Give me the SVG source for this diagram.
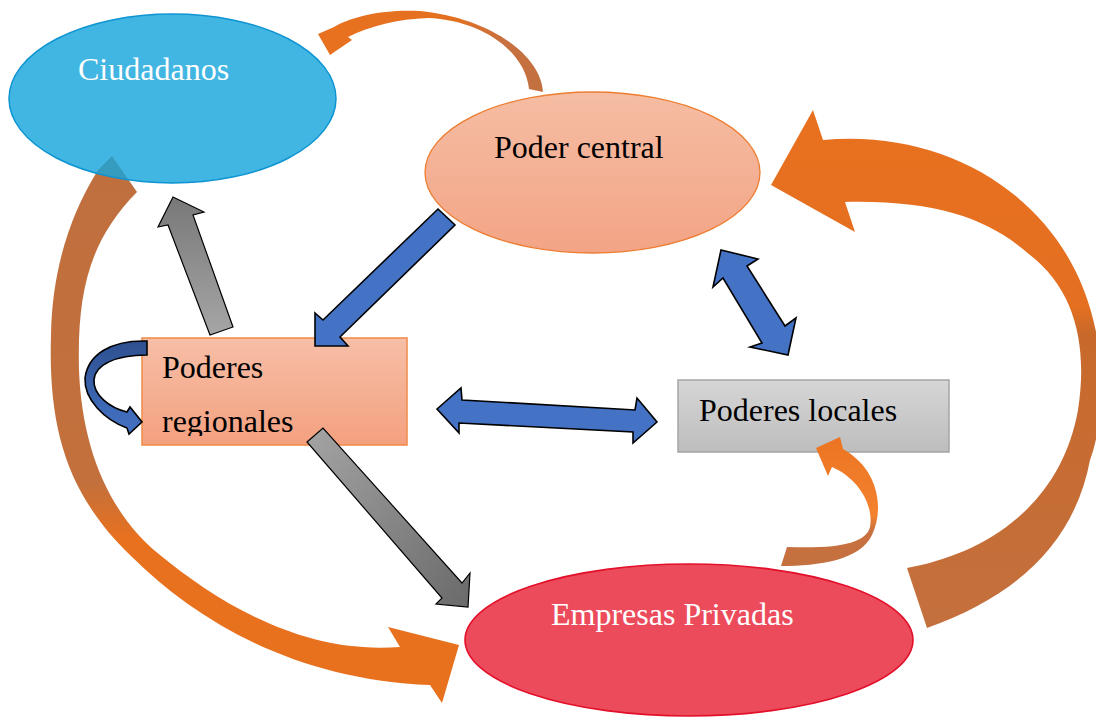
<svg xmlns="http://www.w3.org/2000/svg" width="1096" height="719" viewBox="0 0 1096 719">
<style>
.lbl{font-family:"Liberation Serif","Times New Roman",serif;font-size:32px}
.blk{fill:#000}
.wht{fill:#fff}
.blue{fill:#4472C4;stroke:#000;stroke-width:1.6;stroke-linejoin:miter}
.grey{stroke:#000;stroke-width:1.2}
</style>
<defs>
<linearGradient id="gPoder" x1="0" y1="0" x2="0" y2="1"><stop offset="0" stop-color="#F5BDA3"/><stop offset="1" stop-color="#F3A486"/></linearGradient>
<linearGradient id="gReg" x1="0" y1="0" x2="0" y2="1"><stop offset="0" stop-color="#F6BFA7"/><stop offset="1" stop-color="#F4A07F"/></linearGradient>
<linearGradient id="gLoc" x1="0" y1="0" x2="0" y2="1"><stop offset="0" stop-color="#D6D6D6"/><stop offset="1" stop-color="#BDBDBD"/></linearGradient>
<linearGradient id="gUp" x1="0" y1="0" x2="0" y2="1"><stop offset="0" stop-color="#787878"/><stop offset="1" stop-color="#A6A6A6"/></linearGradient>
<linearGradient id="gDown" x1="0" y1="0" x2="1" y2="1"><stop offset="0" stop-color="#A4A4A4"/><stop offset="1" stop-color="#6A6A6A"/></linearGradient>
<linearGradient id="gLoop" x1="0" y1="0" x2="0" y2="1"><stop offset="0" stop-color="#2E5090"/><stop offset="1" stop-color="#4472C4"/></linearGradient>
<linearGradient id="gLeft" gradientUnits="userSpaceOnUse" x1="0" y1="150" x2="0" y2="705"><stop offset="0" stop-color="#BF6F3E"/><stop offset="0.6" stop-color="#C3703C"/><stop offset="0.7" stop-color="#E8711F"/><stop offset="1" stop-color="#E8711E"/></linearGradient>
<linearGradient id="gRight" gradientUnits="userSpaceOnUse" x1="0" y1="110" x2="0" y2="630"><stop offset="0" stop-color="#E8711F"/><stop offset="0.38" stop-color="#E46F21"/><stop offset="0.43" stop-color="#C8692B"/><stop offset="1" stop-color="#C4703E"/></linearGradient>
<linearGradient id="gTop" gradientUnits="userSpaceOnUse" x1="320" y1="0" x2="545" y2="0"><stop offset="0" stop-color="#E8711F"/><stop offset="0.6" stop-color="#E37020"/><stop offset="0.82" stop-color="#C87040"/><stop offset="1" stop-color="#C2703F"/></linearGradient>
<linearGradient id="gSmall" gradientUnits="userSpaceOnUse" x1="0" y1="437" x2="0" y2="567"><stop offset="0" stop-color="#EC7422"/><stop offset="0.6" stop-color="#F3822E"/><stop offset="0.72" stop-color="#C97040"/><stop offset="1" stop-color="#C4703F"/></linearGradient>
<clipPath id="clipReg"><rect x="140" y="336" width="270" height="100"/></clipPath>
</defs>

<g id="node-poderes-regionales">
<rect x="142" y="338" width="265" height="107" fill="url(#gReg)" stroke="#F08A48" stroke-width="1.5"/>
<g clip-path="url(#clipReg)">
<text class="lbl blk" x="162" y="378">Poderes</text>
<text class="lbl blk" x="162" y="432">regionales</text>
</g>
</g>

<g id="node-poderes-locales">
<rect x="678" y="380" width="271" height="72" fill="url(#gLoc)" stroke="#A5A5A5" stroke-width="1.5"/>
<text class="lbl blk" x="699" y="421">Poderes locales</text>
</g>

<g id="node-poder-central">
<ellipse cx="592.5" cy="172.5" rx="167.5" ry="80.5" fill="url(#gPoder)" stroke="#ED7D31" stroke-width="1.3"/>
<text class="lbl blk" x="494" y="158">Poder central</text>
</g>

<g id="node-empresas-privadas">
<ellipse cx="689" cy="640" rx="224" ry="76" fill="#EC4B5C" stroke="#E3102A" stroke-width="1.6"/>
<text class="lbl wht" x="551" y="625">Empresas Privadas</text>
</g>

<g id="connectors">
<path id="c-top" d="M543,92 C541,55 490,18 420,11 C385,9 352,16 334,27 L318,34 L330,55 L352,40 L348,37 C370,26 398,19 428,18 C480,20 525,50 529,89 Z" fill="url(#gTop)"/>
<path id="c-left" d="M112,156 L98,170 C70,215 52,270 51,335 C48,430 68,495 130,555 C200,625 300,680 430,685 L442,703 L459,645 L388,627 L400,647 C300,655 215,600 160,555 C110,515 82,450 79,370 C77,290 90,240 137,192 Z" fill="url(#gLeft)"/>
<path id="c-right" d="M771,185 L813,110 L823,140 C930,130 1030,180 1075,270 C1110,340 1105,420 1090,460 C1075,540 1020,595 927,628 L907,568 C980,555 1060,510 1078,410 C1088,345 1075,290 1030,255 C990,220 940,200 845,202 L855,232 Z" fill="url(#gRight)"/>
<path id="c-small" d="M781,566 C820,566 860,560 872,535 C884,510 880,470 843,449 L840,437 L816,448 L828,476 L832,467 C858,478 874,505 870,527 C866,543 840,549 787,547 Z" fill="url(#gSmall)"/>
<path id="c-loop" d="M147,341 C110,340 88,355 85,378 C84,400 105,420 127,428 L129,434 L142,422 L130,407 L127,412 C110,408 93,395 94,380 C95,365 115,355 147,355 Z" fill="url(#gLoop)" stroke="#000" stroke-width="1.6"/>
<polygon id="c-up" class="grey" points="173,197 204,212 193,215 233,327 210,335 168,225 158,227" fill="url(#gUp)"/>
<polygon id="c-down" class="grey" points="307,442 323,428 462,583 470,573 468,607 436,604 442,598" fill="url(#gDown)"/>
<polygon id="c-central-reg" class="blue" points="438,209 455,225 340,337 348,346 315,346 315,313 323,320"/>
<polygon id="c-reg-loc" class="blue" points="437,409 461,388 462,400 635,410 637,398 657,422 633,443 633,432 459,423 459,433"/>
<polygon id="c-central-loc" class="blue" points="721,250 758,259 747,266 785,326 796,318 788,355 750,347 762,343 723,278 713,287"/>
</g>

<g id="node-ciudadanos">
<ellipse cx="172.5" cy="98.5" rx="163.5" ry="84.5" fill="#17A6DC" fill-opacity="0.82" stroke="#0E94D2" stroke-width="1.5"/>
<text class="lbl wht" x="78" y="80">Ciudadanos</text>
</g>
</svg>
